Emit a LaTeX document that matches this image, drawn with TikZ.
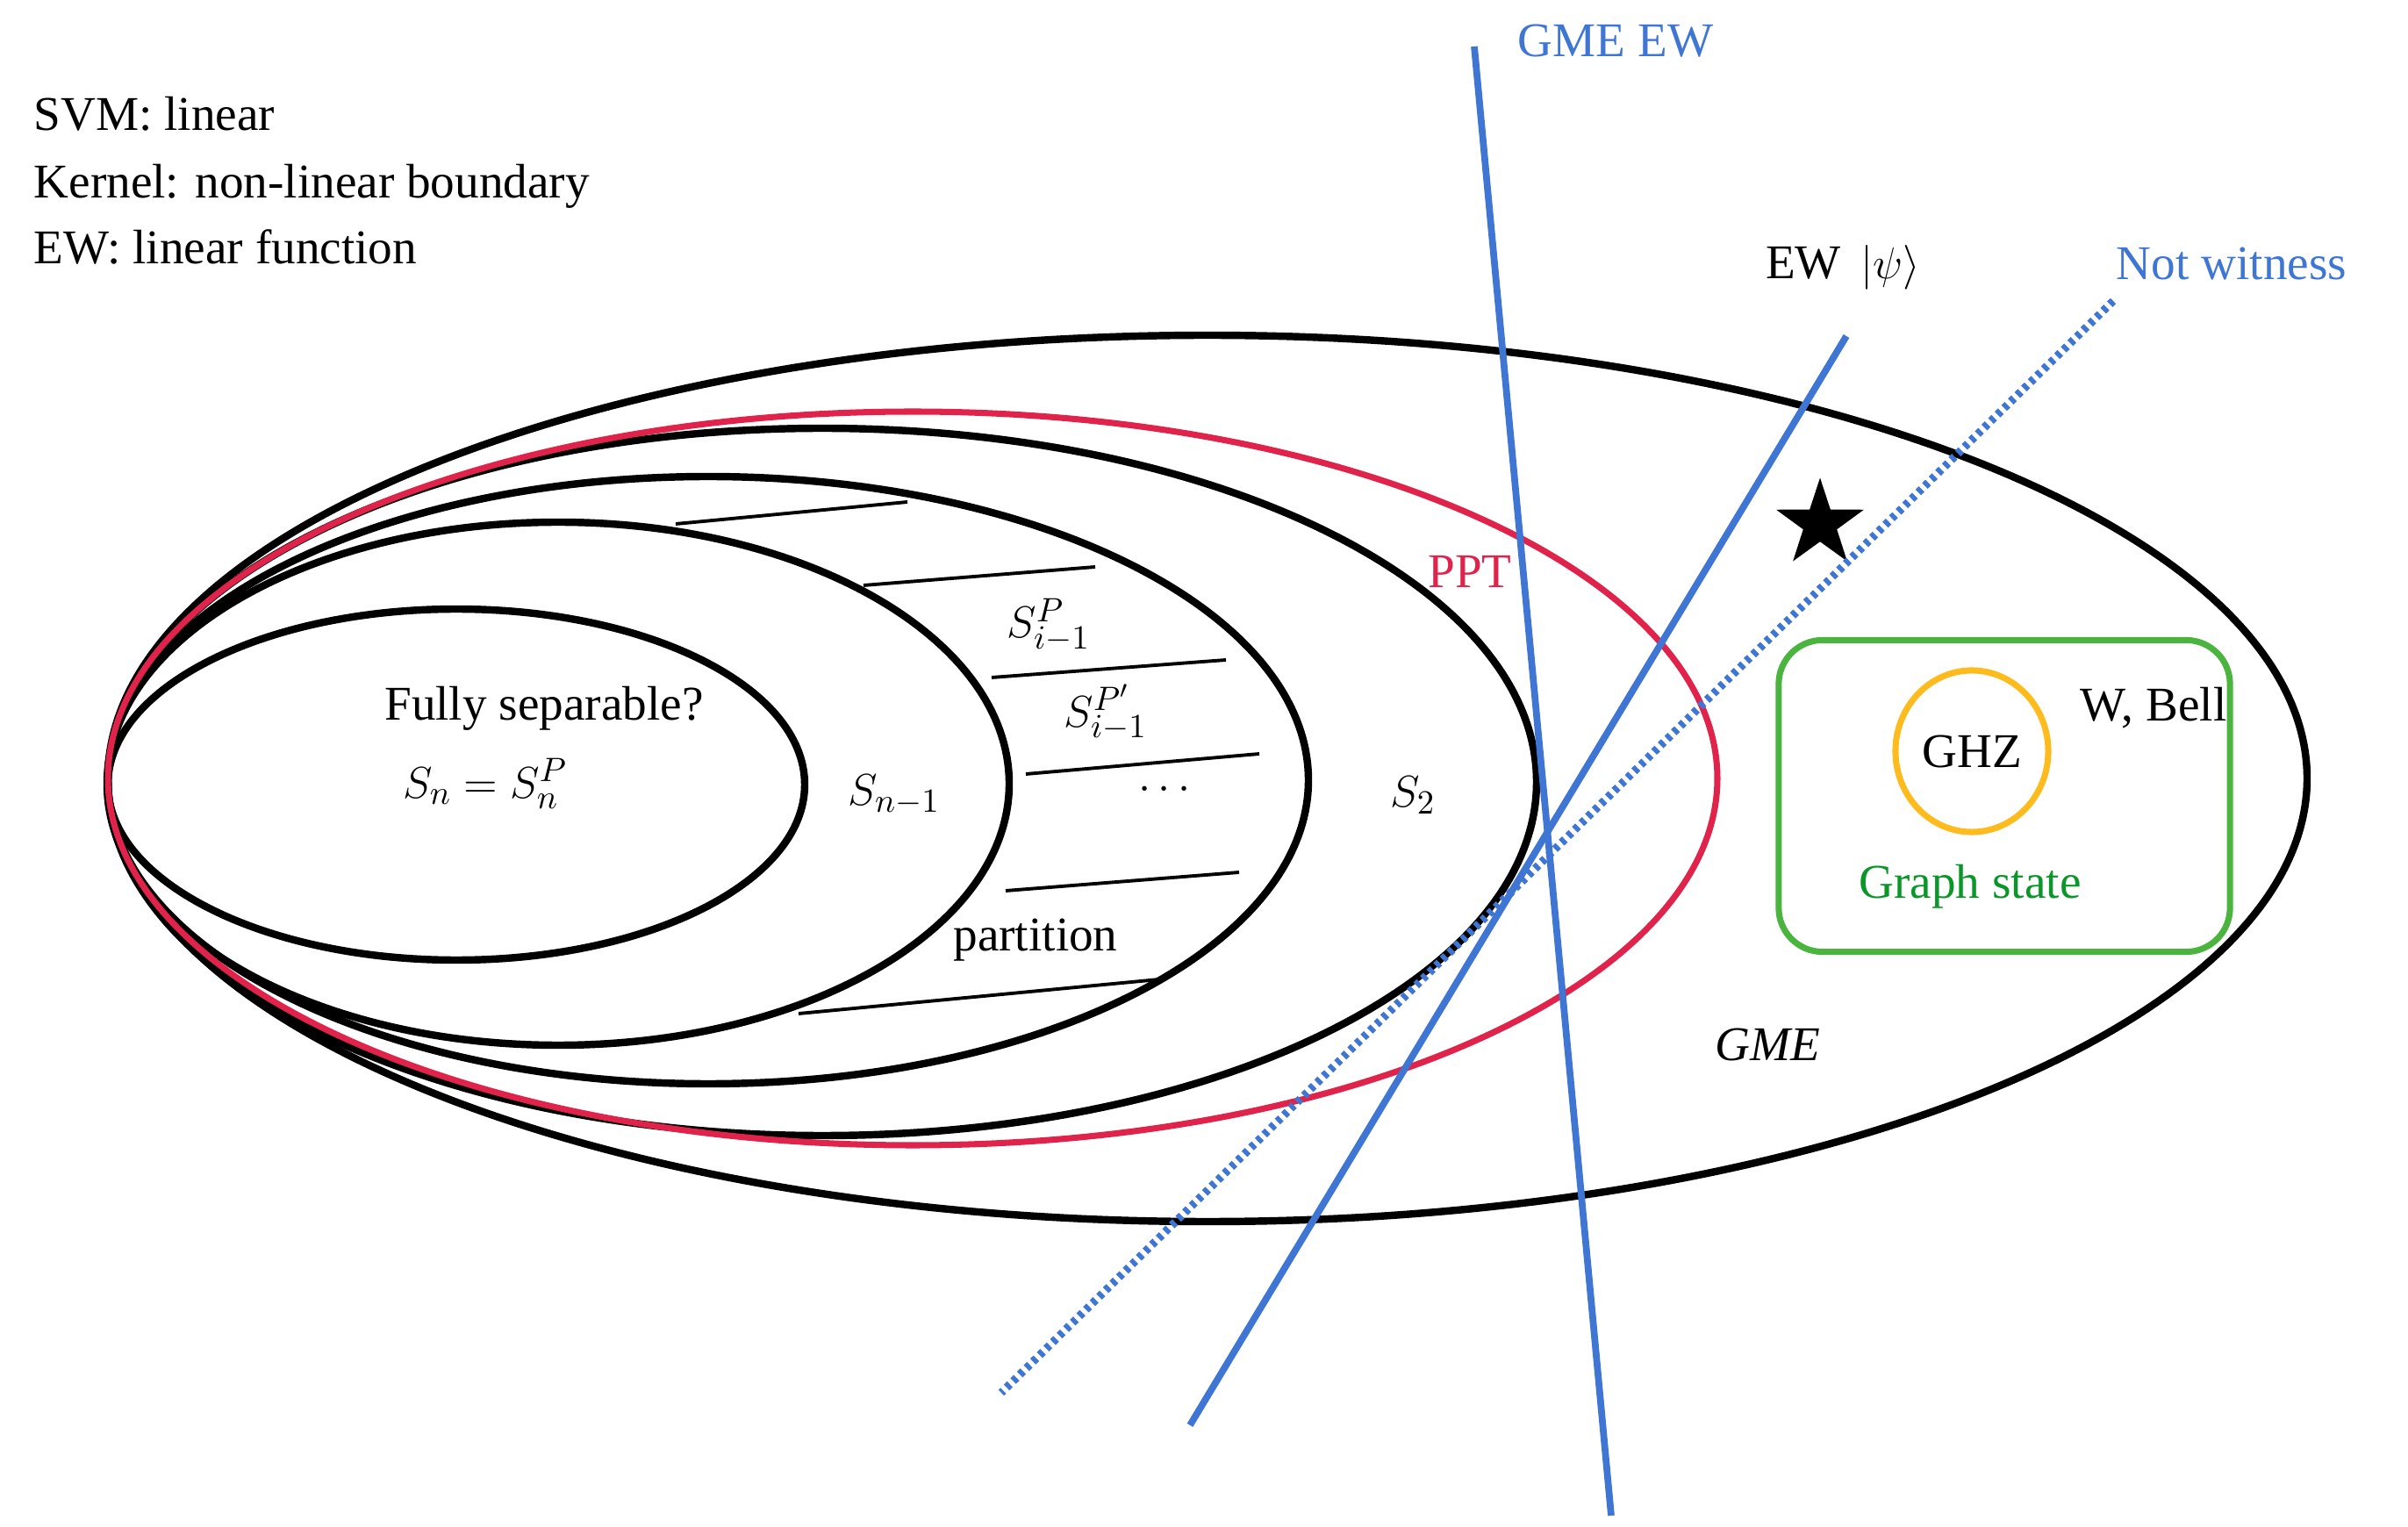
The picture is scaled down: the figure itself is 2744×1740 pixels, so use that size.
\documentclass[tikz,border=0pt]{standalone}
\usepackage{fontspec}
\setmainfont{Liberation Serif}
\usetikzlibrary{shapes.geometric,positioning}
\definecolor{ewblue}{RGB}{63,118,212}
\definecolor{pptred}{RGB}{224,35,74}
\definecolor{boxgreen}{RGB}{75,180,62}
\definecolor{txtgreen}{RGB}{10,150,40}
\definecolor{ghzorange}{RGB}{253,187,30}
\begin{document}
\begin{tikzpicture}[x=0.01cm, y=-0.01cm,
        set/.style={draw, line width=2.4pt},
        part/.style={draw, line width=1.1pt},
        lbl/.style={font=\fontsize{15.7}{21.6}\selectfont, inner sep=0pt},
        witness/.style={draw=ewblue, line width=2.2pt}]
        \useasboundingbox (0,0) rectangle (2744,1740);

        % notes
        \node[lbl, anchor=base west] (svm) at (38,149) {SVM: linear};
        \node[lbl, anchor=base west] (kernel) at (38,226) {Kernel: non-linear boundary};
        \node[lbl, anchor=base west] (ewlin) at (38,301) {EW: linear function};

        % nested sets
        \draw[set] (520,894) ellipse [x radius=397, y radius=200];
        \draw[set] (636,893) ellipse [x radius=514, y radius=298];
        \draw[set] (807,889) ellipse [x radius=684, y radius=346];
        \draw[set] (937,891) ellipse [x radius=814, y radius=403];
        \draw[set] (1376,887) ellipse [x radius=1253, y radius=505];
        \draw[draw=pptred, line width=2pt] (1040,887) ellipse [x radius=917, y radius=418];

        % partitions
        \draw[part] (770,597) -- (1034,572);
        \draw[part] (984,667) -- (1248,646);
        \draw[part] (1130,772) -- (1397,752);
        \draw[part] (1169,882) -- (1435,859);
        \draw[part] (1146,1015) -- (1412,994);
        \draw[part] (910,1155) -- (1321,1116);

        \node[lbl] (fully) at (620,807) {Fully separable?};
        \node[lbl] (sn) at (553,893) {$S_n = S_n^P$};
        \node[lbl] (snm) at (1019,906) {$S_{n-1}$};
        \node[lbl] (sip) at (1195,712) {$S^P_{i-1}$};
        \node[lbl] (sipp) at (1260,812) {$S^{P'}_{i-1}$};
        \node[lbl] (dots) at (1327,900) {$\cdots$};
        \node[lbl] (partition) at (1180,1071) {partition};
        \node[lbl] (stwo) at (1610,906) {$S_2$};
        \node[lbl, text=pptred] (ppt) at (1675,651) {PPT};
        \node[lbl] (gme) at (2014,1190) {\textit{GME}};

        % states
        \node[draw=boxgreen, line width=2pt, rounded corners=0.5cm,
            minimum width=5.14cm, minimum height=3.55cm] (graphbox) at (2284,907) {};
        \node[lbl, draw=ghzorange, line width=2pt, ellipse,
            minimum width=1.74cm, minimum height=1.84cm] (ghz) at (2247,856) {GHZ};
        \node[lbl, text=txtgreen] (graph) at (2245,1010) {Graph state};
        \node[lbl] (wbell) at (2454,807) {W, Bell};
        \node[star, star points=5, star point ratio=2.6, fill, inner sep=0pt,
            minimum size=1.05cm] (target) at (2074,597) {};

        % witnesses
        \coordinate (gmeTop) at (1680,53);
        \coordinate (gmeBot) at (1836,1727);
        \coordinate (psiTop) at (2104,383);
        \coordinate (psiBot) at (1356,1624);
        \coordinate (notTop) at (2408,343);
        \coordinate (notBot) at (1141,1587);
        \draw[witness] (gmeTop) -- (gmeBot);
        \draw[witness] (psiTop) -- (psiBot);
        \draw[witness, line width=2.6pt, dash pattern=on 1.5pt off 1.5pt] (notTop) -- (notBot);

        \node[lbl, text=ewblue] (gmeew) at (1841,47) {GME EW};
        \node[lbl] (ewpsi) at (2100,305) {EW $\,|\psi\rangle$};
        \node[lbl, text=ewblue] (notw) at (2543,301) {Not witness};
    \end{tikzpicture}
\end{document}
